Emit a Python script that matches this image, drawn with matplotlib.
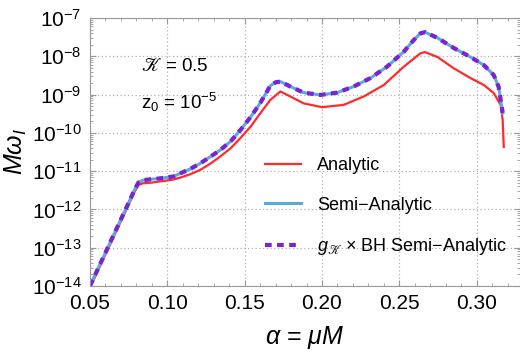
import matplotlib
matplotlib.use("Agg")
import matplotlib.pyplot as plt
from matplotlib.ticker import LogLocator, MultipleLocator, NullFormatter, FormatStrFormatter
import numpy as np

plt.rcParams['font.family'] = ['Liberation Sans', 'DejaVu Sans']
plt.rcParams['mathtext.fontset'] = 'custom'
plt.rcParams['mathtext.rm'] = 'Liberation Sans'
plt.rcParams['mathtext.it'] = 'Liberation Sans:italic'
plt.rcParams['mathtext.bf'] = 'Liberation Sans:bold'
plt.rcParams['mathtext.fallback'] = 'stix'

# alpha values and log10(M omega_I)
alpha_semi = [0.050, 0.060, 0.070, 0.076, 0.079, 0.0813, 0.084, 0.090, 0.0953, 0.104,
              0.1083, 0.115, 0.1212, 0.128, 0.1342, 0.141, 0.1472, 0.154, 0.1601, 0.1666,
              0.170, 0.1731, 0.1795, 0.1881, 0.199, 0.2098, 0.2205, 0.2313, 0.2421, 0.2529,
              0.2592, 0.2637, 0.2665, 0.2747, 0.285, 0.296, 0.3046, 0.311, 0.3142, 0.3168]
log_semi = [-14.0, -13.13, -12.26, -11.74, -11.47, -11.30, -11.24, -11.21, -11.19, -11.14,
            -11.06, -10.94, -10.80, -10.62, -10.45, -10.22, -9.93, -9.58, -9.22, -8.77,
            -8.68, -8.66, -8.79, -8.95, -9.01, -8.95, -8.79, -8.57, -8.27, -7.88,
            -7.58, -7.40, -7.37, -7.52, -7.78, -8.02, -8.23, -8.49, -8.80, -9.48]

alpha_an = [0.050, 0.060, 0.070, 0.076, 0.079, 0.0815, 0.084, 0.090, 0.0953, 0.104,
            0.1083, 0.115, 0.1212, 0.128, 0.1342, 0.141, 0.1472, 0.154, 0.1601, 0.1666,
            0.1731, 0.1795, 0.1881, 0.200, 0.214, 0.227, 0.240, 0.2529, 0.2637, 0.2665,
            0.2747, 0.285, 0.296, 0.3046, 0.311, 0.3155, 0.3168, 0.3175]
log_an = [-14.05, -13.18, -12.31, -11.79, -11.53, -11.36, -11.32, -11.30, -11.27, -11.22,
          -11.17, -11.08, -10.97, -10.80, -10.62, -10.40, -10.14, -9.83, -9.49, -9.14,
          -8.92, -9.05, -9.23, -9.33, -9.27, -9.05, -8.75, -8.27, -7.92, -7.89,
          -8.02, -8.31, -8.57, -8.75, -8.96, -9.27, -9.66, -10.37]

# g_K x BH semi-analytic lies on top of the semi-analytic curve
alpha_gbh = alpha_semi
log_gbh = log_semi

fig = plt.figure(figsize=(5.2, 3.53), dpi=100)
ax = fig.add_axes([0.173, 0.19, 0.827, 0.759])

ax.plot(alpha_an, 10.0 ** np.array(log_an), color='#ff2a2a', lw=1.6, label='Analytic')
ax.plot(alpha_semi, 10.0 ** np.array(log_semi), color='#5aaad6', lw=2.2, label='Semi\u2212Analytic')
ax.plot(alpha_gbh, 10.0 ** np.array(log_gbh), color='#7b22d4', lw=3, ls=(0, (1.6, 1.3)),
        label='$g_{𝒦}$ \u00d7 BH Semi\u2212Analytic')

ax.set_yscale('log')
ax.set_xlim(0.05, 0.328)
ax.set_ylim(1e-14, 1e-7)
ax.yaxis.set_major_locator(LogLocator(base=10, numticks=20))
ax.yaxis.set_minor_locator(LogLocator(base=10, subs=np.arange(2, 10), numticks=20))
ax.yaxis.set_minor_formatter(NullFormatter())
ax.xaxis.set_major_locator(MultipleLocator(0.05))
ax.xaxis.set_minor_locator(MultipleLocator(0.01))
ax.xaxis.set_major_formatter(FormatStrFormatter('%.2f'))

ax.grid(True, which='major', ls=(0, (1, 2)), color='#b0b0b0', lw=0.9)
for s in ax.spines.values():
    s.set_color('#999999')
ax.tick_params(which='both', direction='in', top=True, right=True, color='#999999',
               labelsize=15, pad=6)
ax.tick_params(which='major', length=4)
ax.tick_params(which='minor', length=2)

ax.set_xlabel(r'$\alpha$ = $\mu M$', fontsize=18, labelpad=8)
ax.set_ylabel(r'$M\omega_I$', fontsize=18, labelpad=2)

ax.text(0.118, 0.82, '$𝒦$ = 0.5', transform=ax.transAxes, fontsize=13.5, va='center')
ax.text(0.118, 0.685, 'z$_0$ = 10$^{-5}$', transform=ax.transAxes, fontsize=13.5, va='center')

leg = ax.legend(loc='upper left', bbox_to_anchor=(0.385, 0.515), frameon=False, fontsize=13,
                handlelength=2.0, handletextpad=0.9, labelspacing=1.25, borderpad=0)

fig.savefig('out.png', dpi=100)
